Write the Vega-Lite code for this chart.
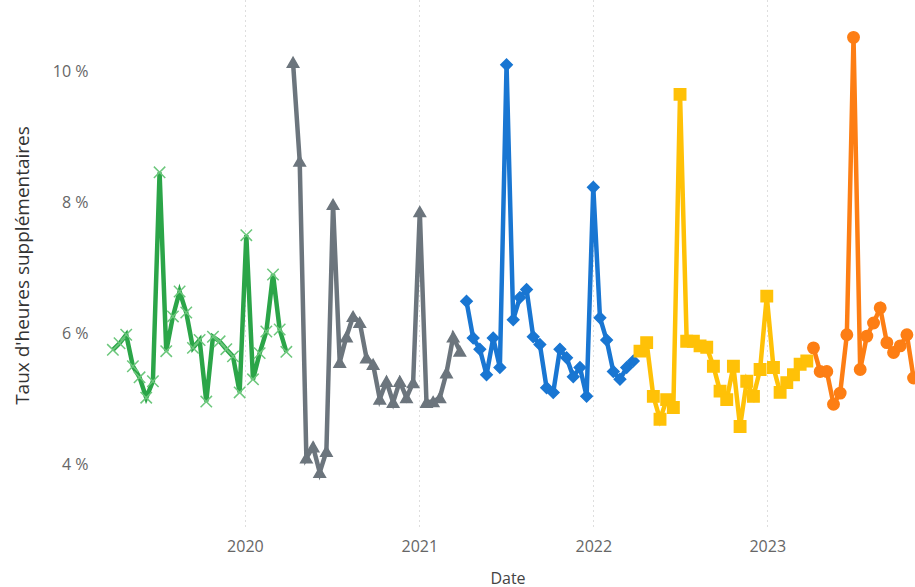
{
  "$schema": "https://vega.github.io/schema/vega-lite/v6.json",
  "width": 815,
  "height": 530,
  "autosize": {"type": "none"},
  "padding": {"left": 100, "top": 0, "right": 0, "bottom": 57},
  "background": "white",
  "config": {"view": {"stroke": null}, "font": "Open Sans"},
  "data": {"values": [
    {"Date": "2019-03-30", "Taux": 5.75, "Exercice": "2019-2020"},
    {"Date": "2019-04-13", "Taux": 5.85, "Exercice": "2019-2020"},
    {"Date": "2019-04-27", "Taux": 5.98, "Exercice": "2019-2020"},
    {"Date": "2019-05-11", "Taux": 5.5, "Exercice": "2019-2020"},
    {"Date": "2019-05-25", "Taux": 5.33, "Exercice": "2019-2020"},
    {"Date": "2019-06-08", "Taux": 5.02, "Exercice": "2019-2020"},
    {"Date": "2019-06-22", "Taux": 5.27, "Exercice": "2019-2020"},
    {"Date": "2019-07-06", "Taux": 8.46, "Exercice": "2019-2020"},
    {"Date": "2019-07-20", "Taux": 5.73, "Exercice": "2019-2020"},
    {"Date": "2019-08-03", "Taux": 6.26, "Exercice": "2019-2020"},
    {"Date": "2019-08-17", "Taux": 6.64, "Exercice": "2019-2020"},
    {"Date": "2019-08-31", "Taux": 6.32, "Exercice": "2019-2020"},
    {"Date": "2019-09-14", "Taux": 5.78, "Exercice": "2019-2020"},
    {"Date": "2019-09-28", "Taux": 5.9, "Exercice": "2019-2020"},
    {"Date": "2019-10-12", "Taux": 4.96, "Exercice": "2019-2020"},
    {"Date": "2019-10-26", "Taux": 5.95, "Exercice": "2019-2020"},
    {"Date": "2019-11-09", "Taux": 5.88, "Exercice": "2019-2020"},
    {"Date": "2019-11-23", "Taux": 5.76, "Exercice": "2019-2020"},
    {"Date": "2019-12-07", "Taux": 5.65, "Exercice": "2019-2020"},
    {"Date": "2019-12-21", "Taux": 5.1, "Exercice": "2019-2020"},
    {"Date": "2020-01-04", "Taux": 7.5, "Exercice": "2019-2020"},
    {"Date": "2020-01-18", "Taux": 5.3, "Exercice": "2019-2020"},
    {"Date": "2020-02-01", "Taux": 5.7, "Exercice": "2019-2020"},
    {"Date": "2020-02-15", "Taux": 6.03, "Exercice": "2019-2020"},
    {"Date": "2020-02-29", "Taux": 6.9, "Exercice": "2019-2020"},
    {"Date": "2020-03-14", "Taux": 6.06, "Exercice": "2019-2020"},
    {"Date": "2020-03-28", "Taux": 5.72, "Exercice": "2019-2020"},
    {"Date": "2020-04-11", "Taux": 10.14, "Exercice": "2020-2021"},
    {"Date": "2020-04-25", "Taux": 8.63, "Exercice": "2020-2021"},
    {"Date": "2020-05-09", "Taux": 4.1, "Exercice": "2020-2021"},
    {"Date": "2020-05-23", "Taux": 4.27, "Exercice": "2020-2021"},
    {"Date": "2020-06-06", "Taux": 3.88, "Exercice": "2020-2021"},
    {"Date": "2020-06-20", "Taux": 4.2, "Exercice": "2020-2021"},
    {"Date": "2020-07-04", "Taux": 7.97, "Exercice": "2020-2021"},
    {"Date": "2020-07-18", "Taux": 5.56, "Exercice": "2020-2021"},
    {"Date": "2020-08-01", "Taux": 5.95, "Exercice": "2020-2021"},
    {"Date": "2020-08-15", "Taux": 6.26, "Exercice": "2020-2021"},
    {"Date": "2020-08-29", "Taux": 6.17, "Exercice": "2020-2021"},
    {"Date": "2020-09-12", "Taux": 5.63, "Exercice": "2020-2021"},
    {"Date": "2020-09-26", "Taux": 5.53, "Exercice": "2020-2021"},
    {"Date": "2020-10-10", "Taux": 5.0, "Exercice": "2020-2021"},
    {"Date": "2020-10-24", "Taux": 5.27, "Exercice": "2020-2021"},
    {"Date": "2020-11-07", "Taux": 4.95, "Exercice": "2020-2021"},
    {"Date": "2020-11-21", "Taux": 5.27, "Exercice": "2020-2021"},
    {"Date": "2020-12-05", "Taux": 5.02, "Exercice": "2020-2021"},
    {"Date": "2020-12-19", "Taux": 5.25, "Exercice": "2020-2021"},
    {"Date": "2021-01-02", "Taux": 7.86, "Exercice": "2020-2021"},
    {"Date": "2021-01-16", "Taux": 4.95, "Exercice": "2020-2021"},
    {"Date": "2021-01-30", "Taux": 4.96, "Exercice": "2020-2021"},
    {"Date": "2021-02-13", "Taux": 5.02, "Exercice": "2020-2021"},
    {"Date": "2021-02-27", "Taux": 5.4, "Exercice": "2020-2021"},
    {"Date": "2021-03-13", "Taux": 5.95, "Exercice": "2020-2021"},
    {"Date": "2021-03-27", "Taux": 5.73, "Exercice": "2020-2021"},
    {"Date": "2021-04-10", "Taux": 6.49, "Exercice": "2021-2022"},
    {"Date": "2021-04-24", "Taux": 5.93, "Exercice": "2021-2022"},
    {"Date": "2021-05-08", "Taux": 5.76, "Exercice": "2021-2022"},
    {"Date": "2021-05-22", "Taux": 5.37, "Exercice": "2021-2022"},
    {"Date": "2021-06-05", "Taux": 5.93, "Exercice": "2021-2022"},
    {"Date": "2021-06-19", "Taux": 5.48, "Exercice": "2021-2022"},
    {"Date": "2021-07-03", "Taux": 10.1, "Exercice": "2021-2022"},
    {"Date": "2021-07-17", "Taux": 6.21, "Exercice": "2021-2022"},
    {"Date": "2021-07-31", "Taux": 6.55, "Exercice": "2021-2022"},
    {"Date": "2021-08-14", "Taux": 6.67, "Exercice": "2021-2022"},
    {"Date": "2021-08-28", "Taux": 5.95, "Exercice": "2021-2022"},
    {"Date": "2021-09-11", "Taux": 5.83, "Exercice": "2021-2022"},
    {"Date": "2021-09-25", "Taux": 5.17, "Exercice": "2021-2022"},
    {"Date": "2021-10-09", "Taux": 5.1, "Exercice": "2021-2022"},
    {"Date": "2021-10-23", "Taux": 5.76, "Exercice": "2021-2022"},
    {"Date": "2021-11-06", "Taux": 5.63, "Exercice": "2021-2022"},
    {"Date": "2021-11-20", "Taux": 5.34, "Exercice": "2021-2022"},
    {"Date": "2021-12-04", "Taux": 5.48, "Exercice": "2021-2022"},
    {"Date": "2021-12-18", "Taux": 5.04, "Exercice": "2021-2022"},
    {"Date": "2022-01-01", "Taux": 8.23, "Exercice": "2021-2022"},
    {"Date": "2022-01-15", "Taux": 6.24, "Exercice": "2021-2022"},
    {"Date": "2022-01-29", "Taux": 5.9, "Exercice": "2021-2022"},
    {"Date": "2022-02-12", "Taux": 5.42, "Exercice": "2021-2022"},
    {"Date": "2022-02-26", "Taux": 5.3, "Exercice": "2021-2022"},
    {"Date": "2022-03-12", "Taux": 5.48, "Exercice": "2021-2022"},
    {"Date": "2022-03-26", "Taux": 5.58, "Exercice": "2021-2022"},
    {"Date": "2022-04-09", "Taux": 5.73, "Exercice": "2022-2023"},
    {"Date": "2022-04-23", "Taux": 5.86, "Exercice": "2022-2023"},
    {"Date": "2022-05-07", "Taux": 5.04, "Exercice": "2022-2023"},
    {"Date": "2022-05-21", "Taux": 4.69, "Exercice": "2022-2023"},
    {"Date": "2022-06-04", "Taux": 4.99, "Exercice": "2022-2023"},
    {"Date": "2022-06-18", "Taux": 4.87, "Exercice": "2022-2023"},
    {"Date": "2022-07-02", "Taux": 9.65, "Exercice": "2022-2023"},
    {"Date": "2022-07-16", "Taux": 5.88, "Exercice": "2022-2023"},
    {"Date": "2022-07-30", "Taux": 5.88, "Exercice": "2022-2023"},
    {"Date": "2022-08-13", "Taux": 5.81, "Exercice": "2022-2023"},
    {"Date": "2022-08-27", "Taux": 5.79, "Exercice": "2022-2023"},
    {"Date": "2022-09-10", "Taux": 5.5, "Exercice": "2022-2023"},
    {"Date": "2022-09-24", "Taux": 5.12, "Exercice": "2022-2023"},
    {"Date": "2022-10-08", "Taux": 4.99, "Exercice": "2022-2023"},
    {"Date": "2022-10-22", "Taux": 5.5, "Exercice": "2022-2023"},
    {"Date": "2022-11-05", "Taux": 4.58, "Exercice": "2022-2023"},
    {"Date": "2022-11-19", "Taux": 5.27, "Exercice": "2022-2023"},
    {"Date": "2022-12-03", "Taux": 5.04, "Exercice": "2022-2023"},
    {"Date": "2022-12-17", "Taux": 5.45, "Exercice": "2022-2023"},
    {"Date": "2022-12-31", "Taux": 6.57, "Exercice": "2022-2023"},
    {"Date": "2023-01-14", "Taux": 5.48, "Exercice": "2022-2023"},
    {"Date": "2023-01-28", "Taux": 5.1, "Exercice": "2022-2023"},
    {"Date": "2023-02-11", "Taux": 5.25, "Exercice": "2022-2023"},
    {"Date": "2023-02-25", "Taux": 5.37, "Exercice": "2022-2023"},
    {"Date": "2023-03-11", "Taux": 5.53, "Exercice": "2022-2023"},
    {"Date": "2023-03-25", "Taux": 5.58, "Exercice": "2022-2023"},
    {"Date": "2023-04-08", "Taux": 5.78, "Exercice": "2023-2024"},
    {"Date": "2023-04-22", "Taux": 5.42, "Exercice": "2023-2024"},
    {"Date": "2023-05-06", "Taux": 5.42, "Exercice": "2023-2024"},
    {"Date": "2023-05-20", "Taux": 4.92, "Exercice": "2023-2024"},
    {"Date": "2023-06-03", "Taux": 5.09, "Exercice": "2023-2024"},
    {"Date": "2023-06-17", "Taux": 5.98, "Exercice": "2023-2024"},
    {"Date": "2023-07-01", "Taux": 10.52, "Exercice": "2023-2024"},
    {"Date": "2023-07-15", "Taux": 5.45, "Exercice": "2023-2024"},
    {"Date": "2023-07-29", "Taux": 5.96, "Exercice": "2023-2024"},
    {"Date": "2023-08-12", "Taux": 6.16, "Exercice": "2023-2024"},
    {"Date": "2023-08-26", "Taux": 6.39, "Exercice": "2023-2024"},
    {"Date": "2023-09-09", "Taux": 5.86, "Exercice": "2023-2024"},
    {"Date": "2023-09-23", "Taux": 5.71, "Exercice": "2023-2024"},
    {"Date": "2023-10-07", "Taux": 5.81, "Exercice": "2023-2024"},
    {"Date": "2023-10-21", "Taux": 5.98, "Exercice": "2023-2024"},
    {"Date": "2023-11-04", "Taux": 5.32, "Exercice": "2023-2024"}
  ]},
  "encoding": {
    "x": {
      "field": "Date", "type": "temporal",
      "scale": {"type": "utc", "domain": [{"year": 2019, "month": 3, "date": 3, "utc": true}, {"year": 2023, "month": 11, "date": 7, "utc": true}]},
      "axis": {
        "title": "Date",
        "values": [{"year": 2020, "month": 1, "date": 1, "utc": true}, {"year": 2021, "month": 1, "date": 1, "utc": true}, {"year": 2022, "month": 1, "date": 1, "utc": true}, {"year": 2023, "month": 1, "date": 1, "utc": true}],
        "format": "%Y",
        "grid": true, "gridDash": [1, 4], "gridColor": "#bdbdbd", "gridWidth": 1,
        "domain": false, "ticks": false,
        "labelFontSize": 16, "labelColor": "#666666", "labelPadding": 8,
        "titleFontSize": 16, "titleFontWeight": "normal", "titleColor": "#444444",
        "titleY": 53, "titleBaseline": "alphabetic"
      }
    },
    "y": {
      "field": "Taux", "type": "quantitative",
      "scale": {"domain": [3.0, 11.09], "nice": false, "zero": false},
      "axis": {
        "title": "Taux d'heures supplémentaires",
        "values": [4, 6, 8, 10],
        "labelExpr": "datum.value + ' %'",
        "grid": false, "domain": false, "ticks": false,
        "labelFontSize": 16, "labelColor": "#666666", "labelPadding": 12,
        "titleFontSize": 19, "titleFontWeight": "normal", "titleColor": "#333333",
        "titleX": -78, "titleBaseline": "middle"
      }
    },
    "color": {
      "field": "Exercice", "type": "nominal",
      "scale": {"domain": ["2019-2020", "2020-2021", "2021-2022", "2022-2023", "2023-2024"], "range": ["#2ba548", "#6c757d", "#1976d2", "#ffc107", "#fd7e14"]},
      "legend": null
    }
  },
  "layer": [
    {"mark": {"type": "line", "strokeWidth": 4.5}},
    {
      "mark": {"type": "point", "filled": true, "opacity": 1, "strokeWidth": 1.5},
      "encoding": {
        "shape": {"field": "Exercice", "type": "nominal", "scale": {"domain": ["2019-2020", "2020-2021", "2021-2022", "2022-2023", "2023-2024"], "range": ["M-1,-1L1,1M-1,1L1,-1", "triangle-up", "diamond", "square", "circle"]}, "legend": null},
        "stroke": {"field": "Exercice", "type": "nominal", "scale": {"domain": ["2019-2020", "2020-2021", "2021-2022", "2022-2023", "2023-2024"], "range": ["#6cc77c", "#6c757d", "#1976d2", "#ffc107", "#fd7e14"]}, "legend": null},
        "size": {"value": 130}
      }
    }
  ]
}
